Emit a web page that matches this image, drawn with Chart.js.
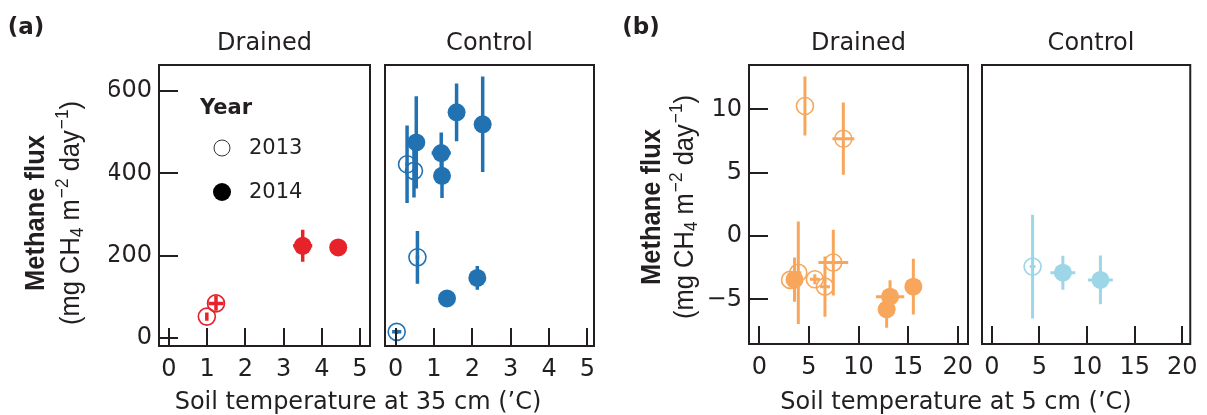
<!DOCTYPE html>
<html>
<head>
<meta charset="utf-8">
<script src="https://cdn.jsdelivr.net/npm/chart.js@4.4.1/dist/chart.umd.min.js"></script>
<style>
html,body{margin:0;padding:0;background:#fff;}
#wrap{position:relative;width:1207px;height:415px;overflow:hidden;font-family:"DejaVu Sans",sans-serif;color:#231f20;}
canvas{position:absolute;left:0;top:0;}
.t{position:absolute;white-space:nowrap;transform:translate(-50%,-50%);line-height:1;font-size:24px;}
.l{position:absolute;white-space:nowrap;transform:translate(0,-50%);line-height:1;font-size:21px;}
.yt{position:absolute;white-space:nowrap;font-family:"Liberation Sans",Arial,sans-serif;font-size:25.5px;line-height:1;transform:translate(-50%,-50%) rotate(-90deg) scaleY(1.1);}
.yt sup{font-size:0.68em;position:relative;top:-0.6em;vertical-align:baseline;margin-left:1px;}
.yt sub{font-size:0.68em;position:relative;top:0.25em;vertical-align:baseline;}
.dot{position:absolute;border-radius:50%;transform:translate(-50%,-50%);box-sizing:border-box;}
</style>
</head>
<body>
<div id="wrap">
  <canvas id="c1" width="1207" height="415"></canvas>
  <canvas id="c2" width="1207" height="415"></canvas>
  <canvas id="c3" width="1207" height="415"></canvas>
  <canvas id="c4" width="1207" height="415"></canvas>

  <div class="t" style="left:26px;top:26px;font-weight:bold;font-size:23px;">(a)</div>
  <div class="t" style="left:641px;top:26px;font-weight:bold;font-size:23px;">(b)</div>
  <div class="t" style="left:264.5px;top:42px;">Drained</div>
  <div class="t" style="left:489.5px;top:42px;">Control</div>
  <div class="t" style="left:858.5px;top:42px;">Drained</div>
  <div class="t" style="left:1091px;top:42px;">Control</div>
  <div class="t" style="left:358px;top:401px;">Soil temperature at 35 cm (’C)</div>
  <div class="t" style="left:956px;top:401px;">Soil temperature at 5 cm (’C)</div>

  <div class="yt" style="left:35px;top:213px;font-weight:bold;">Methane flux</div>
  <div class="yt" style="left:69.5px;top:213px;">(mg CH<sub>4</sub> m<sup>−2</sup> day<sup>−1</sup>)</div>
  <div class="yt" style="left:651px;top:207px;font-weight:bold;">Methane flux</div>
  <div class="yt" style="left:684px;top:207px;">(mg CH<sub>4</sub> m<sup>−2</sup> day<sup>−1</sup>)</div>

  <div class="l" style="left:200px;top:107px;font-weight:bold;">Year</div>
  <div class="dot" style="left:222px;top:148px;width:17px;height:17px;border:1.6px solid #333;"></div>
  <div class="l" style="left:249px;top:147px;">2013</div>
  <div class="dot" style="left:222px;top:192px;width:18px;height:18px;background:#000;"></div>
  <div class="l" style="left:249px;top:191px;">2014</div>
</div>
<script>
// ---------- tick labels ----------
const ticksA_X = [0, 1, 2, 3, 4, 5];
const ticksA_Y = [0, 200, 400, 600];
const ticksB_X = [0, 5, 10, 15, 20];
const ticksB_Y = [-5, 0, 5, 10];

// ---------- (a) Drained, soil temperature at 35 cm ----------
const aDr13_temp = [0.99, 1.23];
const aDr13_flux = [52, 84];
const aDr13_tErr = [0.03, 0.2];
const aDr13_fErr = [10, 18];
const aDr14_temp = [3.5, 4.43];
const aDr14_flux = [224, 220];
const aDr14_tErr = [0.25, 0.1];
const aDr14_fErr = [39, 8];

// ---------- (a) Control ----------
const aCo13_temp = [0.03, 0.3, 0.48, 0.57];
const aCo13_flux = [15, 422, 406, 196];
const aCo13_tErr = [0.12, 0.05, 0.05, 0.05];
const aCo13_fErr = [5, 94, 65, 64];
const aCo14_temp = [0.54, 1.19, 1.21, 1.59, 2.27, 2.13, 1.34];
const aCo14_flux = [475, 449, 394, 548, 519, 146, 96];
const aCo14_tErr = [0.05, 0.25, 0.05, 0.05, 0.05, 0.05, 0.05];
const aCo14_fErr = [112, 50, 54, 70, 116, 29, 5];

// ---------- (b) Drained, soil temperature at 5 cm ----------
const bDr13_temp = [4.6, 8.47, 3.1, 3.93, 5.6, 6.62, 7.46];
const bDr13_flux = [10.26, 7.68, -3.47, -2.9, -3.42, -4.0, -2.1];
const bDr13_tErr = [0.1, 1.1, 0.3, 0.3, 0.5, 0.5, 1.5];
const bDr13_fErr = [2.33, 2.85, 0.5, 4.05, 0.4, 2.37, 2.6];
const bDr14_temp = [3.55, 12.84, 13.18, 15.53];
const bDr14_flux = [-3.45, -5.79, -4.79, -4.0];
const bDr14_tErr = [0.3, 0.3, 1.43, 0.3];
const bDr14_fErr = [1.75, 1.45, 1.3, 2.2];

// ---------- (b) Control ----------
const bCo13_temp = [4.28];
const bCo13_flux = [-2.42];
const bCo13_tErr = [0.3];
const bCo13_fErr = [4.1];
const bCo14_temp = [7.46, 11.4];
const bCo14_flux = [-2.9, -3.47];
const bCo14_tErr = [1.3, 1.3];
const bCo14_fErr = [1.34, 1.93];

const RED = '#e6222a', BLUE = '#2272b2', ORANGE = '#f7a65b', LBLUE = '#9dd6e6';
const INK = '#231f20';
const FONT = {family: 'DejaVu Sans', size: 24};

function pts(xs, ys) { return xs.map((v, i) => ({x: v, y: ys[i]})); }

function openSet(xs, ys, xe, ye, color, w) {
  return {data: pts(xs, ys), xErr: xe, yErr: ye, errColor: color, errWidth: w,
    pointRadius: 8.5, pointHoverRadius: 8.5, backgroundColor: 'rgba(0,0,0,0)',
    borderColor: color, borderWidth: 1.6, clip: false};
}
function fillSet(xs, ys, xe, ye, color, w) {
  return {data: pts(xs, ys), xErr: xe, yErr: ye, errColor: color, errWidth: w,
    pointRadius: 9, pointHoverRadius: 9, backgroundColor: color,
    borderColor: color, borderWidth: 0, clip: false};
}

const errorBars = {
  id: 'errorBars',
  beforeDatasetsDraw(chart) {
    const {ctx} = chart, x = chart.scales.x, y = chart.scales.y;
    ctx.save();
    chart.data.datasets.forEach(ds => {
      ctx.strokeStyle = ds.errColor;
      ctx.lineWidth = ds.errWidth;
      ds.data.forEach((p, i) => {
        const px = x.getPixelForValue(p.x), py = y.getPixelForValue(p.y);
        const ex = ds.xErr[i], ey = ds.yErr[i];
        ctx.beginPath();
        ctx.moveTo(x.getPixelForValue(p.x - ex), py);
        ctx.lineTo(x.getPixelForValue(p.x + ex), py);
        ctx.moveTo(px, y.getPixelForValue(p.y - ey));
        ctx.lineTo(px, y.getPixelForValue(p.y + ey));
        ctx.stroke();
      });
    });
    ctx.restore();
  }
};

const frame = {
  id: 'frame',
  afterDraw(chart, args, opts) {
    const {ctx, chartArea: a} = chart, x = chart.scales.x, y = chart.scales.y;
    ctx.save();
    ctx.strokeStyle = INK;
    ctx.lineWidth = 2;
    ctx.beginPath();
    x.ticks.forEach(t => {
      const px = Math.round(x.getPixelForValue(t.value));
      ctx.moveTo(px, a.bottom); ctx.lineTo(px, a.bottom - 18);
    });
    if (opts.yTicks) {
      y.ticks.forEach(t => {
        const py = Math.round(y.getPixelForValue(t.value));
        ctx.moveTo(a.left, py); ctx.lineTo(a.left + 19, py);
      });
    }
    ctx.stroke();
    ctx.strokeRect(a.left, a.top, a.right - a.left, a.bottom - a.top);
    ctx.restore();
  }
};

function fmt(v) { return v < 0 ? '\u2212' + Math.abs(v) : String(v); }

function panel(id, box, xr, yr, xt, yt, showY, datasets) {
  const yW = showY ? 50 : 0, xH = 40;
  return new Chart(document.getElementById(id), {
    type: 'scatter',
    data: {datasets: datasets},
    options: {
      responsive: false, animation: false, devicePixelRatio: 1,
      events: [],
      layout: {padding: {left: box.l - yW, right: 1207 - box.r, top: box.t, bottom: 415 - box.b - xH}},
      plugins: {legend: {display: false}, tooltip: {enabled: false}, frame: {yTicks: showY}},
      scales: {
        x: {
          type: 'linear', position: 'bottom', min: xr[0], max: xr[1],
          afterBuildTicks: s => { s.ticks = xt.map(v => ({value: v})); },
          afterFit: s => { s.height = xH; },
          grid: {display: false, drawTicks: false},
          border: {display: false},
          ticks: {font: FONT, color: INK, padding: 9, maxRotation: 0, autoSkip: false, callback: v => fmt(v)}
        },
        y: {
          type: 'linear', position: 'left', min: yr[0], max: yr[1], display: showY,
          afterBuildTicks: s => { s.ticks = yt.map(v => ({value: v})); },
          afterFit: s => { s.width = yW; },
          grid: {display: false, drawTicks: false},
          border: {display: false},
          ticks: {font: FONT, color: INK, padding: 7, autoSkip: false, callback: v => fmt(v)}
        }
      }
    },
    plugins: [errorBars, frame]
  });
}

panel('c1', {l: 159, r: 370, t: 65, b: 346}, [-0.262, 5.262], [-19.4, 663], ticksA_X, ticksA_Y, true, [
  openSet(aDr13_temp, aDr13_flux, aDr13_tErr, aDr13_fErr, RED, 3.5),
  fillSet(aDr14_temp, aDr14_flux, aDr14_tErr, aDr14_fErr, RED, 3.5)
]);
panel('c2', {l: 385, r: 594, t: 65, b: 346}, [-0.275, 5.17], [-19.4, 663], ticksA_X, ticksA_Y, false, [
  openSet(aCo13_temp, aCo13_flux, aCo13_tErr, aCo13_fErr, BLUE, 3.5),
  fillSet(aCo14_temp, aCo14_flux, aCo14_tErr, aCo14_fErr, BLUE, 3.5)
]);
panel('c3', {l: 749, r: 968, t: 65, b: 344}, [-1.04, 21.04], [-8.53, 13.5], ticksB_X, ticksB_Y, true, [
  openSet(bDr13_temp, bDr13_flux, bDr13_tErr, bDr13_fErr, ORANGE, 3),
  fillSet(bDr14_temp, bDr14_flux, bDr14_tErr, bDr14_fErr, ORANGE, 3)
]);
panel('c4', {l: 982, r: 1200, t: 65, b: 344}, [-1.03, 20.83], [-8.53, 13.5], ticksB_X, ticksB_Y, false, [
  openSet(bCo13_temp, bCo13_flux, bCo13_tErr, bCo13_fErr, LBLUE, 3),
  fillSet(bCo14_temp, bCo14_flux, bCo14_tErr, bCo14_fErr, LBLUE, 3)
]);
</script>
</body>
</html>
